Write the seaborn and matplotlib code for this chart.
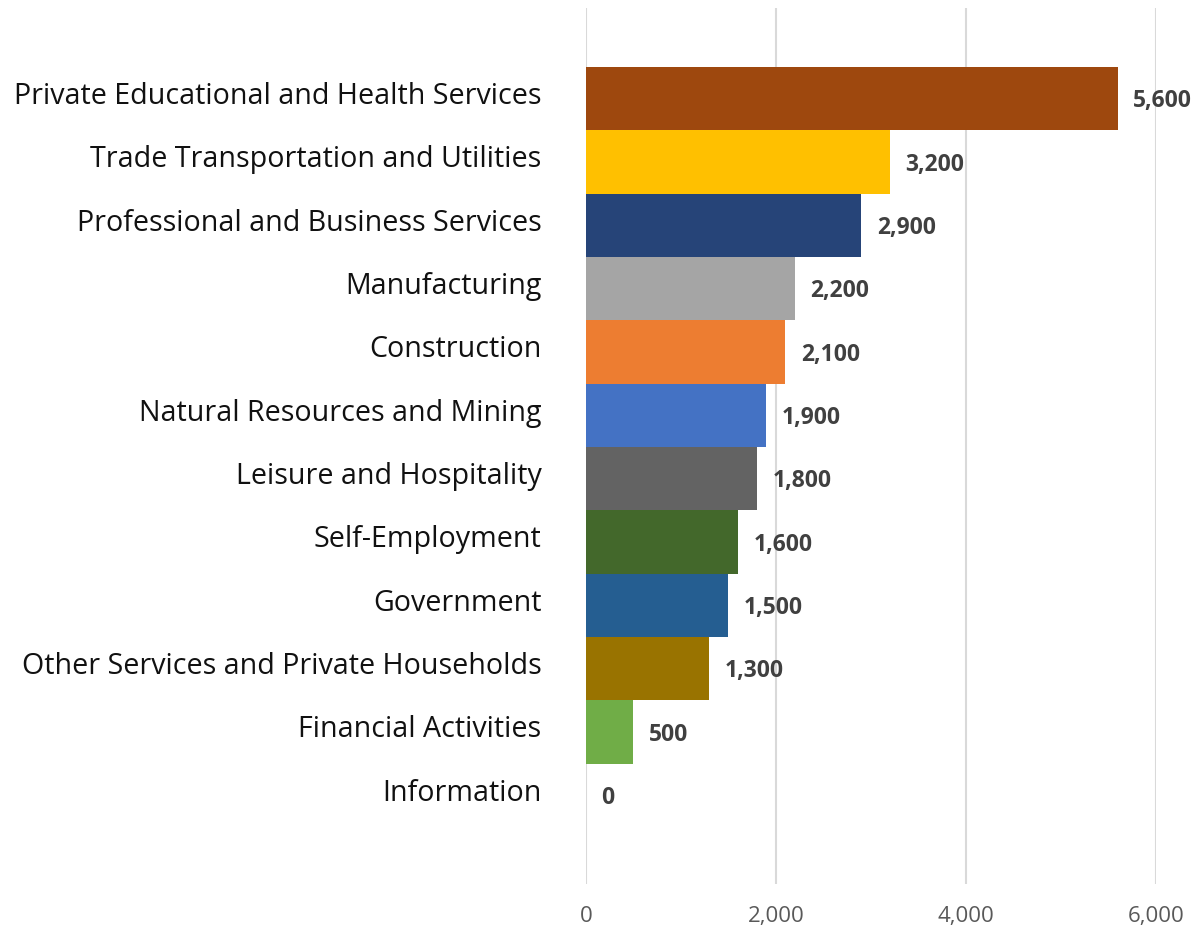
import matplotlib
matplotlib.use("Agg")
import matplotlib.pyplot as plt
import matplotlib.transforms as mtransforms
import seaborn as sns
import pandas as pd

categories = [
    "Private Educational and Health Services",
    "Trade Transportation and Utilities",
    "Professional and Business Services",
    "Manufacturing",
    "Construction",
    "Natural Resources and Mining",
    "Leisure and Hospitality",
    "Self-Employment",
    "Government",
    "Other Services and Private Households",
    "Financial Activities",
    "Information",
]
values = [5600, 3200, 2900, 2200, 2100, 1900, 1800, 1600, 1500, 1300, 500, 0]
colors = ["#9E480E", "#FFC000", "#264478", "#A5A5A5", "#ED7D31", "#4472C4",
          "#636363", "#43682B", "#255E91", "#997300", "#70AD47", "#698ED0"]
xticks = [0, 2000, 4000, 6000]
xticklabels = ["0", "2,000", "4,000", "6,000"]

sns.set_theme(style="white")
plt.rcParams['font.family'] = ['Open Sans', 'DejaVu Sans']

df = pd.DataFrame({"category": categories, "value": values})

fig = plt.figure(figsize=(11.99, 9.26), dpi=100)
ax = fig.add_axes([0.4887, 0.0454, 0.9641 - 0.4887, 0.9914 - 0.0454])

sns.barplot(data=df, y="category", x="value", hue="category", palette=colors,
            orient="h", width=1.0, legend=False, ax=ax, saturation=1,
            linewidth=0)

ax.set_xlim(0, 6000)
ax.set_ylim(12.4, -1.43)
ax.set_xticks(xticks)
ax.set_xticklabels(xticklabels, fontsize=16, color="#595959")
ax.tick_params(axis="x", length=0, pad=16)
ax.tick_params(axis="y", length=0, pad=32, labelsize=20.6, labelcolor="#111111")
ax.set_xlabel("")
ax.set_ylabel("")
ax.grid(axis="x", color="#D9D9D9", linewidth=1.5)
ax.set_axisbelow(True)
for s in ax.spines.values():
    s.set_visible(False)

offset = mtransforms.ScaledTranslation(0, 4 / 72, fig.dpi_scale_trans)
for lbl in ax.get_yticklabels():
    lbl.set_transform(lbl.get_transform() + offset)

for i, v in enumerate(values):
    ax.annotate(f"{v:,}", xy=(v, i), xytext=(11, -2), textcoords="offset points",
                ha="left", va="center", fontsize=16.5, fontweight="bold",
                color="#404040", annotation_clip=False)

fig.savefig("out.png", dpi=100)
